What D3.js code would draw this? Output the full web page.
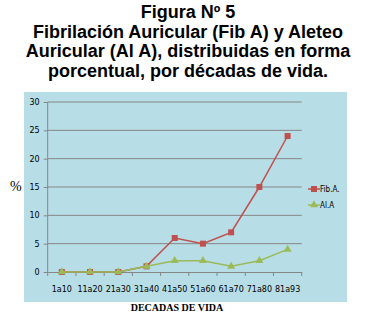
<!DOCTYPE html>
<html><head><meta charset="utf-8">
<script src="https://cdn.jsdelivr.net/npm/d3@7"></script>
<style>body{margin:0;background:#fff}svg{display:block}</style>
</head><body>
<script>
const categories = ["1a10","11a20","21a30","31a40","41a50","51a60","61a70","71a80","81a93"];
const fibA = [0,0,0,1,6,5,7,15,24];
const alA = [0,0,0,1,2,2,1,2,4];
const yTicks = [0,5,10,15,20,25,30];
const titleLines = ["Figura Nº 5","Fibrilación Auricular (Fib A) y Aleteo","Auricular (Al A), distribuidas en forma","porcentual, por décadas de vida."];

const W=377,H=321;
const svg=d3.select("body").append("svg").attr("width",W).attr("height",H);
// title
svg.append("g").selectAll("text").data(titleLines).join("text")
  .attr("x",188).attr("y",(d,i)=>18+i*19.6).attr("text-anchor","middle")
  .attr("font-family","Liberation Sans, Arial, sans-serif").attr("font-weight","bold")
  .attr("font-size",18).attr("fill","#000").text(d=>d);
// panel
svg.append("rect").attr("x",24).attr("y",92).attr("width",323).attr("height",210).attr("fill","#B7DDE6");
const x=d3.scaleBand().domain(categories).range([47.7,301.7]);
const y=d3.scaleLinear().domain([0,30]).range([272,102]);
const g=svg.append("g");
// gridlines
g.selectAll("line.grid").data(yTicks.slice(1)).join("line").attr("class","grid")
  .attr("x1",47.7).attr("x2",301.7).attr("y1",d=>y(d)).attr("y2",d=>y(d))
  .attr("stroke","#868686").attr("stroke-width",1);
const yAxis=g.append("g").attr("transform","translate(47.7,0)")
  .call(d3.axisLeft(y).tickValues(yTicks).tickSize(4).tickPadding(4));
const xAxis=g.append("g").attr("transform","translate(0,272)")
  .call(d3.axisBottom(x).tickSize(0).tickPadding(14));
[yAxis,xAxis].forEach(a=>{a.select(".domain").attr("stroke","#868686");a.selectAll(".tick line").attr("stroke","#868686");
  a.selectAll("text").attr("font-family","DejaVu Sans, sans-serif").attr("font-size",8).attr("fill","#000");});
// x tick marks between categories
g.selectAll("line.xt").data(d3.range(categories.length+1)).join("line")
  .attr("x1",i=>47.7+i*x.step()).attr("x2",i=>47.7+i*x.step()).attr("y1",272).attr("y2",276).attr("stroke","#868686");
yAxis.select(".domain").attr("d","M0,272V102");
const line=d3.line().x((d,i)=>x(categories[i])+x.bandwidth()/2).y(d=>y(d));
g.append("path").datum(fibA).attr("d",line).attr("fill","none").attr("stroke","#C0504D").attr("stroke-width",1.5);
g.selectAll("rect.fm").data(fibA).join("rect").attr("class","fm")
  .attr("x",(d,i)=>x(categories[i])+x.bandwidth()/2-3).attr("y",d=>y(d)-3).attr("width",6).attr("height",6).attr("fill","#C0504D");
g.append("path").datum(alA).attr("d",line).attr("fill","none").attr("stroke","#9BBB59").attr("stroke-width",1.5);
const tri=d3.symbol().type(d3.symbolTriangle).size(28);
g.selectAll("path.am").data(alA).join("path").attr("class","am").attr("d",tri)
  .attr("transform",(d,i)=>`translate(${x(categories[i])+x.bandwidth()/2},${y(d)})`).attr("fill","#9BBB59");
// legend
const leg=[{n:"Fib.A.",c:"#C0504D",t:"sq",y:189},{n:"Al.A",c:"#9BBB59",t:"tri",y:205}];
leg.forEach(l=>{
  svg.append("line").attr("x1",308).attr("x2",320).attr("y1",l.y).attr("y2",l.y).attr("stroke",l.c).attr("stroke-width",1.5);
  if(l.t==="sq") svg.append("rect").attr("x",311).attr("y",l.y-3).attr("width",6).attr("height",6).attr("fill",l.c);
  else svg.append("path").attr("d",tri).attr("transform",`translate(314,${l.y})`).attr("fill",l.c);
  svg.append("text").attr("x",320).attr("y",l.y+3).attr("font-family","DejaVu Sans Condensed, DejaVu Sans, sans-serif").attr("font-size",8).text(l.n);
});
svg.append("text").attr("x",10).attr("y",191).attr("font-family","Liberation Serif, serif").attr("font-size",14).text("%");
svg.append("text").attr("x",177).attr("y",311).attr("text-anchor","middle").attr("font-family","Liberation Serif, serif").attr("font-weight","bold").attr("font-size",10).text("DECADAS DE VIDA");
</script>
</body></html>
